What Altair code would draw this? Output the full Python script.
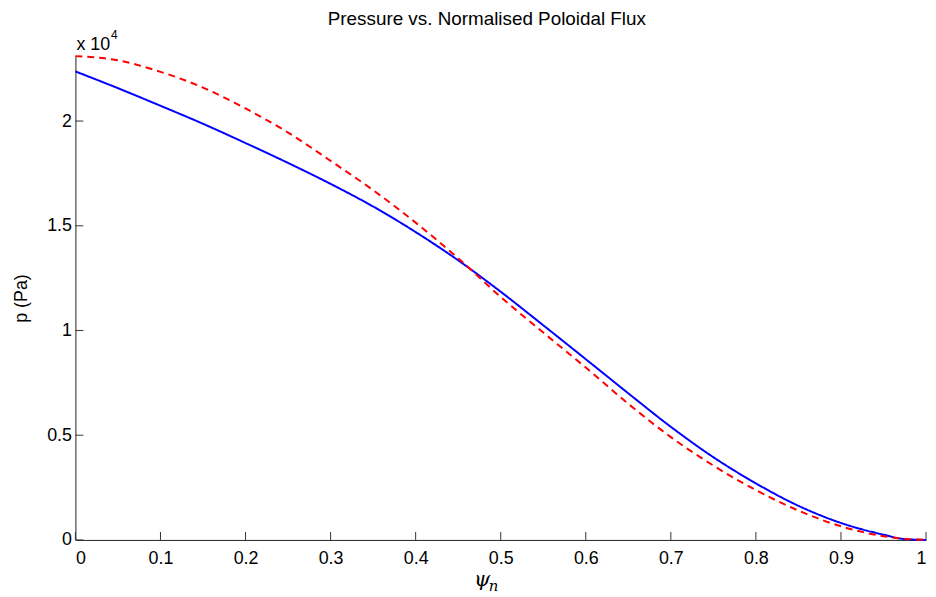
import altair as alt
import pandas as pd

# normalised poloidal flux
psi_n = [0.0, 0.05, 0.1, 0.15, 0.2, 0.25, 0.3, 0.35, 0.4, 0.45, 0.5,
         0.55, 0.6, 0.65, 0.7, 0.75, 0.8, 0.85, 0.9, 0.95, 0.975, 1.0]
# pressure (Pa), solid blue curve
p_blue = [22370, 21570, 20730, 19870, 18950, 18000, 17000, 15920, 14700, 13350, 11850,
          10250, 8630, 7000, 5400, 3950, 2700, 1630, 810, 250, 40, 0]
# pressure (Pa), dashed red curve
p_red = [23100, 22900, 22350, 21600, 20600, 19450, 18100, 16700, 15150, 13450, 11600,
         9900, 8230, 6500, 4910, 3550, 2380, 1400, 650, 180, 50, 0]

x_ticks = [0, 0.1, 0.2, 0.3, 0.4, 0.5, 0.6, 0.7, 0.8, 0.9, 1.0]
y_ticks = [0, 5000, 10000, 15000, 20000]

W, H = 858, 488
FONT = "Liberation Sans"

rows = []
for x, b, r in zip(psi_n, p_blue, p_red):
    rows.append({"psi": x, "p": b, "series": "blue"})
    rows.append({"psi": x, "p": r, "series": "red"})
df = pd.DataFrame(rows)

xs = alt.Scale(domain=[0, 1], nice=False, zero=False)
ys = alt.Scale(domain=[0, 23100], nice=False, zero=True)

lines = alt.Chart(df).mark_line(strokeWidth=2, interpolate="monotone").encode(
    x=alt.X("psi:Q", scale=xs,
            axis=alt.Axis(values=x_ticks, format="~g", title=None, ticks=False,
                          labelPadding=10, labelFontSize=18, labelFont=FONT,
                          labelColor="black", domainColor="#222222", grid=False)),
    y=alt.Y("p:Q", scale=ys,
            axis=alt.Axis(values=y_ticks, labelExpr="datum.value/10000",
                          title="p (Pa)", titleFont=FONT, titleFontSize=18,
                          titleFontWeight="normal", titleColor="black", titlePadding=16,
                          ticks=False, labelPadding=4, labelFontSize=18, labelFont=FONT,
                          labelColor="black", domainColor="#222222", grid=False)),
    color=alt.Color("series:N", scale=alt.Scale(domain=["blue", "red"], range=["#0000FF", "#FF0000"]),
                    legend=None),
    strokeDash=alt.StrokeDash("series:N", scale=alt.Scale(domain=["blue", "red"], range=[[1, 0], [7, 5]]),
                              legend=None),
    order=alt.Order("psi:Q"),
)

xt = pd.DataFrame({"t": x_ticks})
yt = pd.DataFrame({"t": y_ticks})

xtick_marks = alt.Chart(xt).mark_rule(color="#333333", strokeWidth=1).encode(
    x=alt.X("t:Q", scale=xs),
    y=alt.value(H), y2=alt.value(H - 8),
)
ytick_marks = alt.Chart(yt).mark_rule(color="#333333", strokeWidth=1).encode(
    y=alt.Y("t:Q", scale=ys),
    x=alt.value(0), x2=alt.value(8),
)

one = pd.DataFrame({"a": [0]})
title_txt = alt.Chart(one).mark_text(text="Pressure vs. Normalised Poloidal Flux", align="center",
                                     baseline="alphabetic", font=FONT, fontSize=19,
                                     color="black").encode(
    x=alt.value(415), y=alt.value(-31))
exp_main = alt.Chart(one).mark_text(text="x 10", align="left", baseline="middle",
                                    font=FONT, fontSize=18, color="black").encode(
    x=alt.value(1), y=alt.value(-11))
exp_sup = alt.Chart(one).mark_text(text="4", align="left", baseline="middle",
                                   font=FONT, fontSize=12, color="black").encode(
    x=alt.value(36), y=alt.value(-21))
psi_lbl = alt.Chart(one).mark_text(text="ψ", align="left", baseline="middle",
                                   font="DejaVu Serif", fontStyle="italic", fontSize=21,
                                   color="black").encode(
    x=alt.value(402), y=alt.value(528))
n_lbl = alt.Chart(one).mark_text(text="n", align="left", baseline="middle",
                                 font="DejaVu Serif", fontStyle="italic", fontSize=15,
                                 color="black").encode(
    x=alt.value(417), y=alt.value(535))

chart = alt.layer(lines, xtick_marks, ytick_marks, title_txt, exp_main, exp_sup,
                  psi_lbl, n_lbl).properties(
    width=W, height=H,
    background="white",
    autosize=alt.AutoSizeParams(type="none"),
    padding={"left": 68, "top": 46, "right": 2, "bottom": 53},
).configure_view(stroke=None)

chart.save("out.html", embed_options={"renderer": "svg", "actions": False})
